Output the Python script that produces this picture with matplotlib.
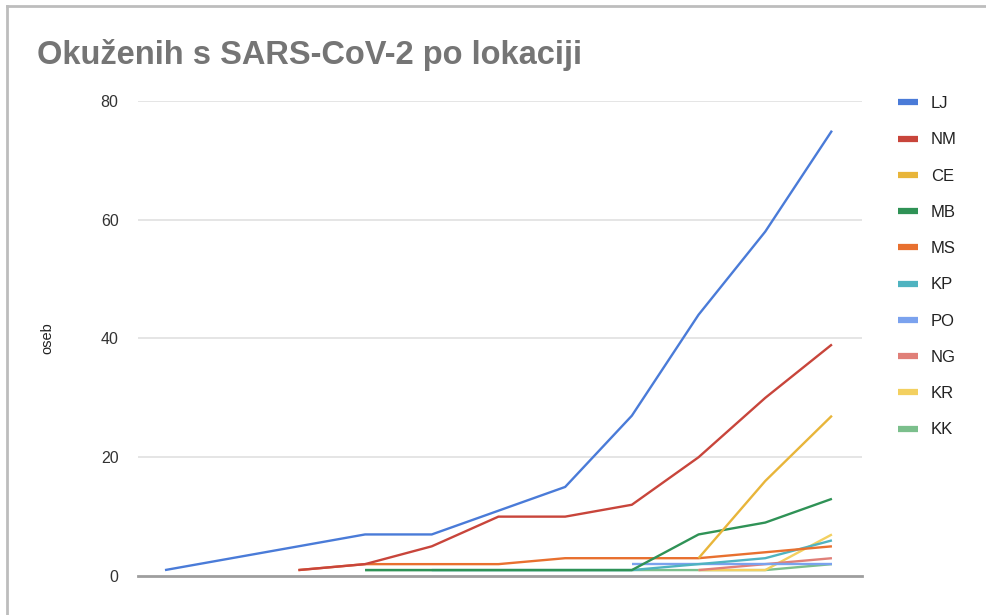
import numpy as np
import matplotlib
matplotlib.use("Agg")
import matplotlib.pyplot as plt
from matplotlib.lines import Line2D

plt.rcParams['font.family'] = ['Liberation Sans', 'DejaVu Sans']

n = None
days = list(range(11))
series = {
    'LJ': [1, 3, 5, 7, 7, 11, 15, 27, 44, 58, 75],
    'NM': [n, n, 1, 2, 5, 10, 10, 12, 20, 30, 39],
    'CE': [n, n, n, n, n, n, n, n, 3, 16, 27],
    'MB': [n, n, n, 1, 1, 1, 1, 1, 7, 9, 13],
    'MS': [n, n, 1, 2, 2, 2, 3, 3, 3, 4, 5],
    'KP': [n, n, n, n, 1, 1, 1, 1, 2, 3, 6],
    'PO': [n, n, n, n, n, n, n, 2, 2, 2, 2],
    'NG': [n, n, n, n, n, n, n, n, 1, 2, 3],
    'KR': [n, n, n, n, n, n, n, n, 1, 1, 7],
    'KK': [n, n, n, 1, 1, 1, 1, 1, 1, 1, 2],
}
colors = ['#4a7bd8', '#c8453b', '#e8b53a', '#2f9256', '#e8702f',
          '#4fb3c0', '#7ba2ee', '#e07f78', '#f3d060', '#7bbf8c']
yticks = [0, 20, 40, 60, 80]

fig = plt.figure(figsize=(9.87, 6.15), dpi=100, facecolor='white')
ax = fig.add_axes([0.1398, 0.0634, 0.7335, 0.7724])

# grid
for t in yticks[1:]:
    ax.axhline(t, color='#e0e0e0', lw=1.2, zorder=0)
ax.axhline(0, color='#9e9e9e', lw=2.0, zorder=5, clip_on=False)

# draw in reverse so LJ stays on top
names = list(series.keys())
for name, c in reversed(list(zip(names, colors))):
    y = np.array([np.nan if v is None else v for v in series[name]], dtype=float)
    ax.plot(days, y, color=c, lw=1.7, clip_on=False, zorder=3, solid_capstyle='butt')

ax.set_xlim(-0.405, 10.45)
ax.set_ylim(0, 80)
ax.set_yticks(yticks)
ax.set_xticks([])
for s in ax.spines.values():
    s.set_visible(False)
ax.tick_params(axis='y', length=0, pad=14, labelsize=11.5, labelcolor='#333333')
ax.set_ylabel('oseb', fontsize=10.5, color='#222222', labelpad=33)

handles = [Line2D([0], [0], color=c, lw=4.5, solid_capstyle='butt') for c in colors]
ax.legend(handles, names, loc='upper left', bbox_to_anchor=(0.895, 0.868),
          bbox_transform=fig.transFigure, frameon=False, fontsize=12,
          handlelength=1.2, handletextpad=0.75, labelspacing=1.275,
          labelcolor='#222222')

fig.text(0.0375, 0.91, 'Okuženih s SARS-CoV-2 po lokaciji', fontsize=23.5,
         fontweight='bold', color='#757575', va='center', ha='left')

# screenshot border
fig.add_artist(Line2D([0.007, 0.007], [0, 0.99], transform=fig.transFigure,
                      color='#bdbdbd', lw=2))
fig.add_artist(Line2D([0.007, 1], [0.99, 0.99], transform=fig.transFigure,
                      color='#bdbdbd', lw=2))

fig.savefig('out.png', dpi=100, facecolor='white')
